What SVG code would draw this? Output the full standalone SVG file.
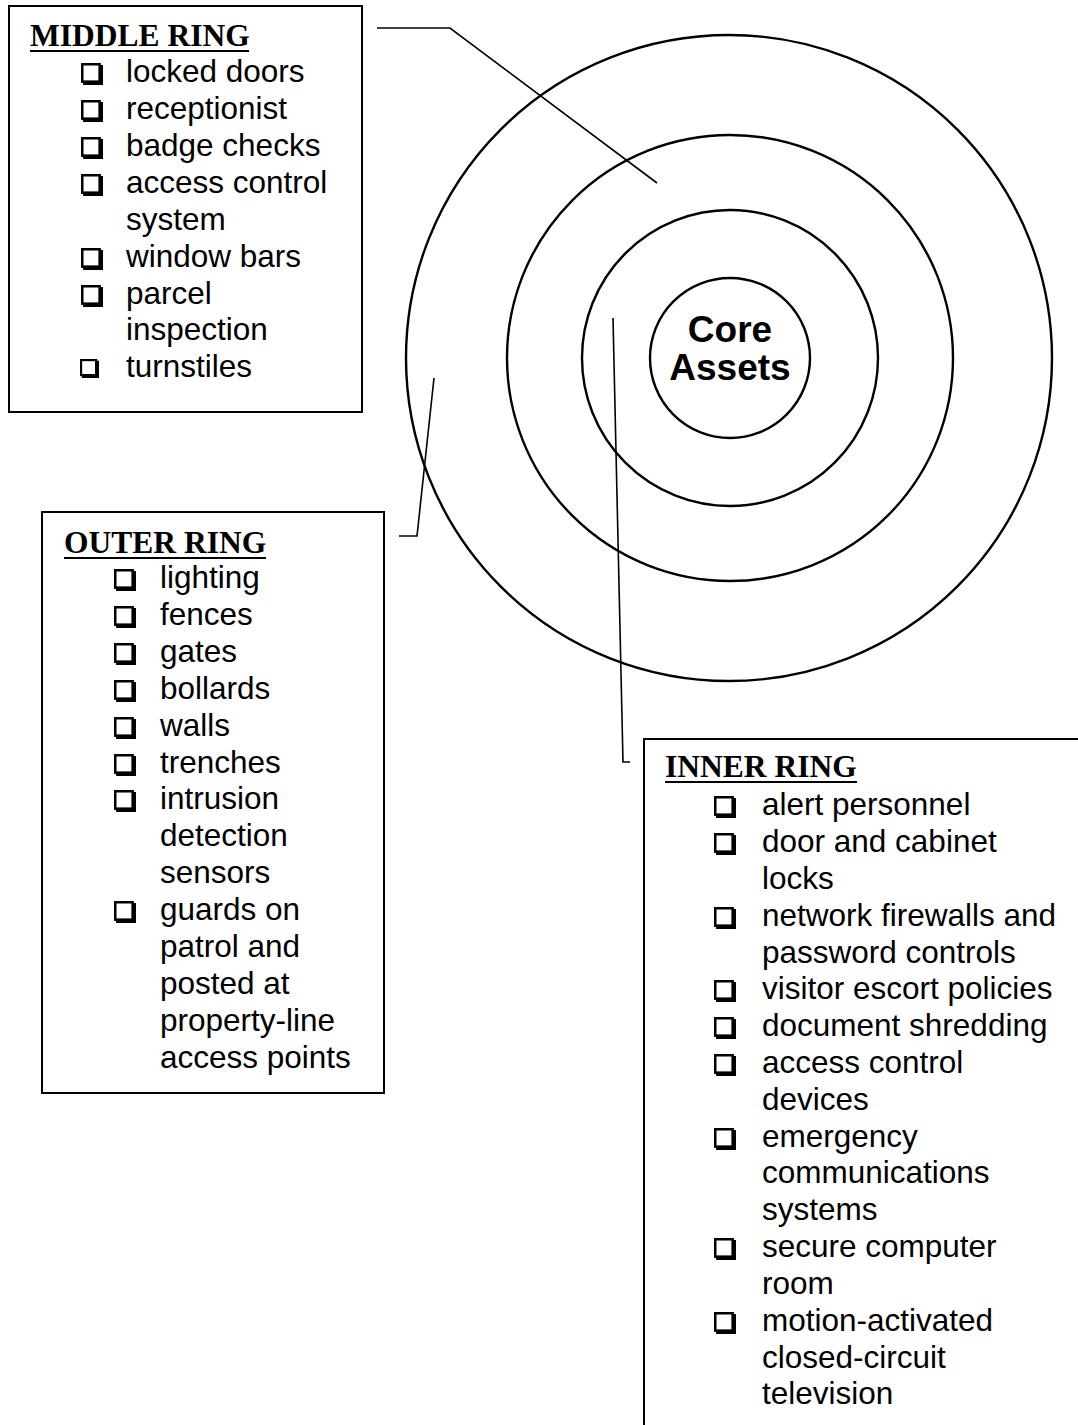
<svg xmlns="http://www.w3.org/2000/svg" width="1078" height="1425" viewBox="0 0 1078 1425">
<style>
.box{fill:#fff;stroke:#000;stroke-width:2}
.ring{fill:none;stroke:#000;stroke-width:2.4}
.conn{fill:none;stroke:#000;stroke-width:1.6}
.title{font-family:"Liberation Serif","Times New Roman",serif;font-weight:bold;font-size:31.5px;fill:#000}
.ul{stroke:#000;stroke-width:2}
.item{font-family:"Liberation Sans",Arial,sans-serif;font-size:31.5px;fill:#000}
.core{font-family:"Liberation Sans",Arial,sans-serif;font-weight:bold;font-size:37px;fill:#000;text-anchor:middle}
</style>
<defs>
<symbol id="cb" viewBox="0 0 21 21" overflow="visible">
<rect x="1.2" y="1.2" width="16.6" height="16.6" fill="#fff" stroke="#000" stroke-width="2.4"/>
<path d="M18 2 H21 V21 H2 V18 H18 Z" fill="#000"/>
</symbol>
</defs>
<rect width="1078" height="1425" fill="#fff"/>
<g id="rings">
<circle id="outer-circle" class="ring" cx="729" cy="358" r="323"/>
<circle id="middle-circle" class="ring" cx="730" cy="358" r="223"/>
<circle id="inner-circle" class="ring" cx="730" cy="358" r="148"/>
</g>
<g id="core">
<circle class="ring" cx="730" cy="358" r="80"/>
<text class="core" x="730" y="342">Core</text>
<text class="core" x="730" y="380">Assets</text>
</g>
<g id="connectors">
<polyline class="conn" points="377,28 450,28 657,183"/>
<polyline class="conn" points="399,536 417,536 434,378"/>
<polyline class="conn" points="613,318 623,762 630,762"/>
</g>
<g id="middle-ring">
<rect class="box" x="9" y="6" width="353" height="406"/>
<text class="title" x="30" y="46">MIDDLE RING</text>
<line class="ul" x1="30" y1="51" x2="249" y2="51"/>
<use href="#cb" x="81" y="63" width="22" height="22"/>
<text class="item" x="126" y="82">locked doors</text>
<use href="#cb" x="81" y="100" width="22" height="22"/>
<text class="item" x="126" y="119">receptionist</text>
<use href="#cb" x="81" y="137" width="22" height="22"/>
<text class="item" x="126" y="156">badge checks</text>
<use href="#cb" x="81" y="174" width="22" height="22"/>
<text class="item" x="126" y="193">access control</text>
<text class="item" x="126" y="230">system</text>
<use href="#cb" x="81" y="248" width="22" height="22"/>
<text class="item" x="126" y="267">window bars</text>
<use href="#cb" x="81" y="285" width="22" height="22"/>
<text class="item" x="126" y="304">parcel</text>
<text class="item" x="126" y="340">inspection</text>
<use href="#cb" x="80" y="359" width="19" height="19"/>
<text class="item" x="126" y="377">turnstiles</text>
</g>
<g id="outer-ring">
<rect class="box" x="42" y="512" width="342" height="581"/>
<text class="title" x="64" y="553">OUTER RING</text>
<line class="ul" x1="64" y1="558" x2="266" y2="558"/>
<use href="#cb" x="114" y="569" width="22" height="22"/>
<text class="item" x="160" y="588">lighting</text>
<use href="#cb" x="114" y="606" width="22" height="22"/>
<text class="item" x="160" y="625">fences</text>
<use href="#cb" x="114" y="643" width="22" height="22"/>
<text class="item" x="160" y="662">gates</text>
<use href="#cb" x="114" y="680" width="22" height="22"/>
<text class="item" x="160" y="699">bollards</text>
<use href="#cb" x="114" y="717" width="22" height="22"/>
<text class="item" x="160" y="736">walls</text>
<use href="#cb" x="114" y="754" width="22" height="22"/>
<text class="item" x="160" y="773">trenches</text>
<use href="#cb" x="114" y="790" width="22" height="22"/>
<text class="item" x="160" y="809">intrusion</text>
<text class="item" x="160" y="846">detection</text>
<text class="item" x="160" y="883">sensors</text>
<use href="#cb" x="114" y="901" width="22" height="22"/>
<text class="item" x="160" y="920">guards on</text>
<text class="item" x="160" y="957">patrol and</text>
<text class="item" x="160" y="994">posted at</text>
<text class="item" x="160" y="1031">property-line</text>
<text class="item" x="160" y="1068">access points</text>
</g>
<g id="inner-ring">
<rect class="box" x="644" y="739" width="450" height="700"/>
<text class="title" x="665" y="777">INNER RING</text>
<line class="ul" x1="665" y1="782" x2="857" y2="782"/>
<use href="#cb" x="714" y="796" width="22" height="22"/>
<text class="item" x="762" y="815">alert personnel</text>
<use href="#cb" x="714" y="833" width="22" height="22"/>
<text class="item" x="762" y="852">door and cabinet</text>
<text class="item" x="762" y="889">locks</text>
<use href="#cb" x="714" y="907" width="22" height="22"/>
<text class="item" x="762" y="926">network firewalls and</text>
<text class="item" x="762" y="963">password controls</text>
<use href="#cb" x="714" y="980" width="22" height="22"/>
<text class="item" x="762" y="999">visitor escort policies</text>
<use href="#cb" x="714" y="1017" width="22" height="22"/>
<text class="item" x="762" y="1036">document shredding</text>
<use href="#cb" x="714" y="1054" width="22" height="22"/>
<text class="item" x="762" y="1073">access control</text>
<text class="item" x="762" y="1110">devices</text>
<use href="#cb" x="714" y="1128" width="22" height="22"/>
<text class="item" x="762" y="1147">emergency</text>
<text class="item" x="762" y="1183">communications</text>
<text class="item" x="762" y="1220">systems</text>
<use href="#cb" x="714" y="1238" width="22" height="22"/>
<text class="item" x="762" y="1257">secure computer</text>
<text class="item" x="762" y="1294">room</text>
<use href="#cb" x="714" y="1312" width="22" height="22"/>
<text class="item" x="762" y="1331">motion-activated</text>
<text class="item" x="762" y="1368">closed-circuit</text>
<text class="item" x="762" y="1404">television</text>
</g>
</svg>
